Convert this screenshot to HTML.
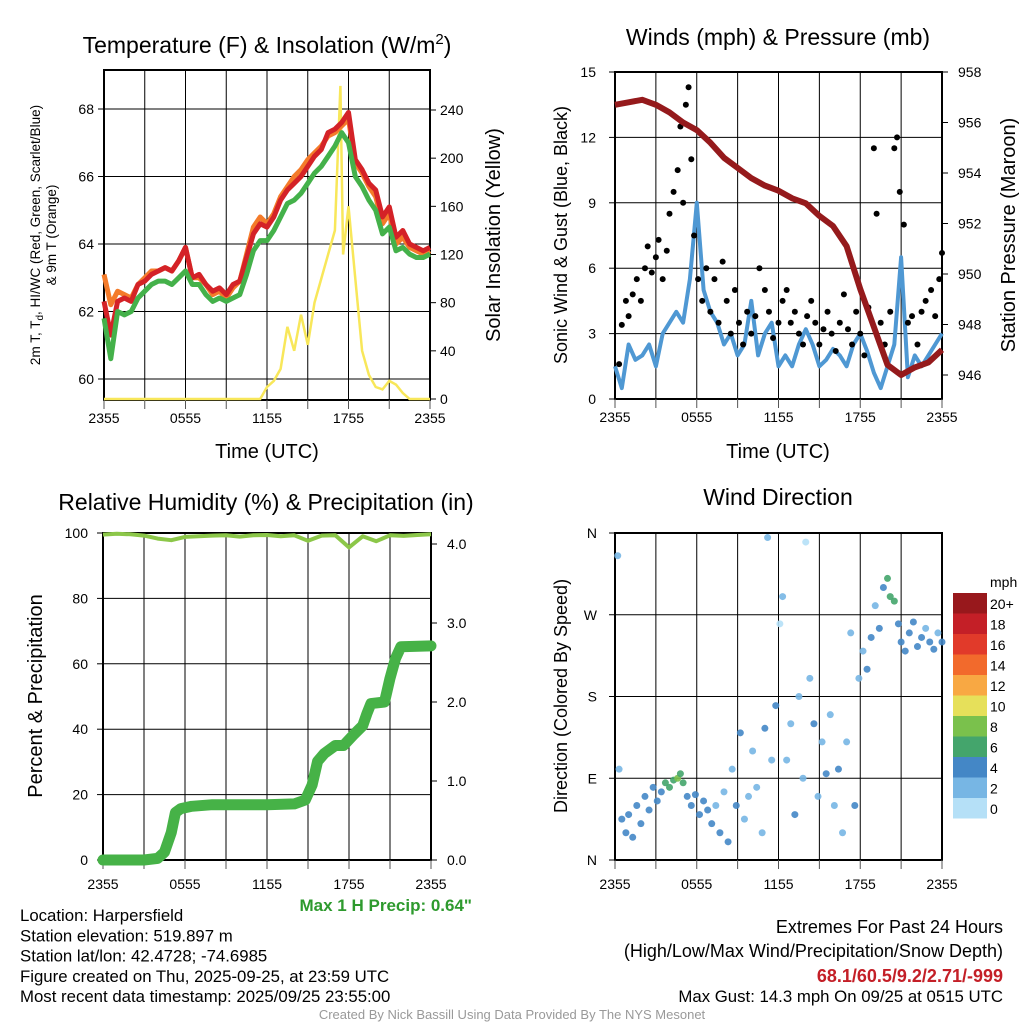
<!DOCTYPE html>
<html><head><meta charset="utf-8"><style>
body{margin:0;background:#fff;}
svg{display:block;font-family:"Liberation Sans",sans-serif;}
</style></head><body>
<svg id="c" width="1024" height="1024" viewBox="0 0 1024 1024" xmlns="http://www.w3.org/2000/svg"></svg>
<script>
// ---------- data ----------
const timeTicks = ["2355","0555","1155","1755","2355"];
const tempHours = [0,0.5,1,1.5,2,2.5,3,3.5,4,4.5,5,5.5,6,6.5,7,7.5,8,8.5,9,9.5,10,10.5,11,11.5,12,12.5,13,13.5,14,14.5,15,15.5,16,16.5,17,17.5,18,18.5,19,19.5,20,20.5,21,21.5,22,22.5,23,23.5,24];
const tempRed = [62.3,61.3,62.3,62.4,62.3,62.8,62.9,63.1,63.2,63.3,63.2,63.5,63.9,63.0,63.1,62.8,62.6,62.7,62.5,62.8,62.9,63.6,64.3,64.6,64.5,64.8,65.3,65.6,65.8,66.0,66.3,66.6,66.8,67.3,67.4,67.6,67.9,66.5,66.2,65.8,65.6,64.8,65.1,64.2,64.4,64.0,63.9,63.8,63.9];
const tempGreen = [61.8,60.6,62.0,61.9,62.0,62.4,62.6,62.8,62.9,62.9,62.8,63.0,63.2,62.8,62.8,62.5,62.3,62.4,62.3,62.4,62.5,63.1,63.8,64.1,64.1,64.4,64.8,65.2,65.3,65.5,65.8,66.1,66.3,66.6,66.9,67.3,67.0,66.0,65.7,65.3,65.0,64.3,64.5,63.8,63.9,63.7,63.6,63.6,63.7];
const tempOrange = [63.1,62.2,62.6,62.5,62.4,62.8,63.0,63.2,63.2,63.3,63.2,63.5,63.9,63.0,63.0,62.8,62.5,62.6,62.4,62.7,62.9,63.7,64.5,64.8,64.6,64.9,65.4,65.7,66.0,66.2,66.5,66.7,66.9,67.2,67.3,67.5,67.7,66.4,66.1,65.7,65.4,64.6,64.9,64.0,64.2,63.9,63.8,63.7,63.8];
const insoHours = [0,11.5,12,12.5,13,13.5,14,14.5,15,15.5,16,16.5,17,17.4,17.6,18,18.5,19,19.5,20,20.5,21,21.5,22,22.5,24];
const insoVals = [0,0,10,15,25,60,40,70,45,80,100,120,140,260,120,160,100,40,20,10,8,15,12,5,0,0];
const tempTicks = [60,62,64,66,68];
const insoTicks = [0,40,80,120,160,200,240];

const windHours = tempHours;
const windSpeed = [1.5,0.5,2.5,1.8,2.0,2.5,1.5,3,3.5,4,3.5,5.5,9,5,4,3.5,2.5,3,2,2.5,4.5,2,3,3.5,1.5,2,1.5,2.5,3.2,2.5,1.5,1.8,2.3,2.0,1.5,2.5,3,2.2,1.2,0.5,1.5,2.5,6.5,1.0,2.0,1.5,2.0,2.5,3.0];
const presHours = [0,1,2,3,4,5,6,7,8,9,10,11,12,13,14,15,16,17,18,19,20,21,22,23,24];
const presVals = [956.7,956.8,956.9,956.7,956.4,956.0,955.7,955.2,954.6,954.2,953.8,953.5,953.3,953.0,952.8,952.3,951.9,951.1,949.4,947.9,946.4,946.0,946.3,946.5,947.0];
const gustHours = [0.3,0.5,0.8,1.0,1.3,1.6,1.9,2.2,2.4,2.7,3.0,3.2,3.5,3.8,4.0,4.3,4.6,4.8,5.0,5.2,5.4,5.6,5.8,6.1,6.4,6.7,7.0,7.3,7.6,7.9,8.2,8.5,8.8,9.1,9.4,9.7,10.0,10.3,10.6,11.0,11.3,11.6,12.0,12.3,12.6,12.9,13.2,13.5,13.8,14.1,14.4,14.7,15.0,15.3,15.6,15.9,16.2,16.5,16.8,17.1,17.4,17.7,18.0,18.3,18.6,19.0,19.2,19.5,19.8,20.2,20.5,20.7,20.9,21.2,21.5,21.8,22.2,22.5,22.8,23.2,23.5,23.8,24];
const gustVals = [1.6,3.4,4.5,3.8,4.8,5.5,4.5,6,7,5.8,6.5,7.3,5.5,6.8,8.5,9.5,10.5,12.5,9,13.5,14.3,11,7.5,5.5,4.5,6,4,5.5,3.5,6.3,4.5,3,5,3.5,2.5,4,3,3.8,6,5,4,2.8,3.5,4.5,5,3.5,4,3,2.5,3.8,4.5,3.5,2.5,3.2,4,3,2.2,3.5,4.8,3.2,2.5,4,3,2.0,4.2,11.5,8.5,3.5,2.5,4,11.5,12,9.5,8,3.5,3.8,2.5,4,4.5,5,3.8,5.5,6.7];
const windTicks = [0,3,6,9,12,15];
const presTicks = [946,948,950,952,954,956,958];

const rhHours = presHours;
const rhVals = [99.5,99.8,99.6,99.2,98.3,97.8,98.8,99.0,99.2,99.3,98.9,99.3,99.4,99.0,99.3,97.6,99.2,99.3,95.6,99.0,97.5,99.3,99.1,99.4,99.6];
const precipHours = [0,3,4,4.5,5,5.3,5.7,6.5,8,12,14,14.8,15.3,15.7,16.2,17,17.6,18.3,19.0,19.3,19.6,20.6,21.0,21.4,21.8,24];
const precipVals = [0,0,0.02,0.1,0.35,0.6,0.65,0.68,0.7,0.7,0.71,0.76,0.95,1.25,1.35,1.45,1.45,1.58,1.7,1.85,1.98,2.0,2.3,2.55,2.7,2.71];
const rhTicks = [0,20,40,60,80,100];
const precipTicks = ["0.0","1.0","2.0","3.0","4.0"];

const dirHours = [0.2,0.3,0.5,0.8,1.0,1.3,1.6,1.9,2.2,2.5,2.8,3.1,3.4,3.7,4.0,4.3,4.6,4.8,5.0,5.3,5.6,5.9,6.2,6.5,6.8,7.1,7.4,7.7,8.0,8.3,8.6,8.9,9.2,9.5,9.8,10.1,10.4,10.8,11.0,11.2,11.5,11.8,12.1,12.3,12.6,12.9,13.2,13.5,13.8,14.0,14.3,14.6,14.9,15.2,15.5,15.8,16.1,16.4,16.7,17.0,17.3,17.6,17.9,18.2,18.5,18.8,19.1,19.4,19.7,20.0,20.2,20.5,20.8,21.0,21.3,21.6,21.9,22.2,22.5,22.8,23.1,23.4,23.7,24];
const dirDeg = [335,100,45,30,50,25,60,40,70,55,80,65,75,85,80,88,90,95,85,70,60,72,50,65,55,40,60,30,75,20,100,60,140,45,70,120,80,30,145,355,110,170,260,290,110,150,50,180,90,350,200,150,70,130,95,160,60,100,30,130,250,60,200,230,210,245,280,255,300,310,290,285,260,240,230,250,262,235,245,255,240,232,250,240];
const dirSpeed = [1,1,3,4,3,4,3,4,3,4,3,4,4,6,5,6,7,6,5,4,3,4,3,4,3,3,2,3,2,3,2,3,3,2,2,1,1,2,4,1,2,3,0,1,2,1,3,2,1,0,2,3,2,2,3,1,1,3,2,2,1,3,2,1,3,4,2,4,3,6,5,6,4,3,4,3,4,3,3,2,3,3,2,3];
const dirLabels = ["N","E","S","W","N"];
const speedBins = ["0","2","4","6","8","10","12","14","16","18","20+"];
const binColors = ["#b5e0f7","#77b6e4","#4487c6","#44a56c","#7ac14c","#e6e05a","#f8a843","#f26a2c","#e13a2a","#c41f27","#98181c"];

// ---------- helpers ----------
const S = "http://www.w3.org/2000/svg";
const svg = document.getElementById('c');
function el(tag, attrs, parent){ const e=document.createElementNS(S,tag); for(const k in attrs) e.setAttribute(k,attrs[k]); (parent||svg).appendChild(e); return e; }
function txt(x,y,s,size,anchor,parent,extra){ const t=el('text',Object.assign({x:x,y:y,'font-size':size,'text-anchor':anchor||'middle',fill:'#000'},extra||{}),parent); t.textContent=s; return t; }
function lin(d0,d1,r0,r1){ return v=>r0+(v-d0)*(r1-r0)/(d1-d0); }
function pathD(xs,ys,fx,fy){ return xs.map((h,i)=>(i?'L':'M')+fx(h).toFixed(1)+' '+fy(ys[i]).toFixed(1)).join(''); }

function frame(g,x0,x1,y0,y1,nv){
  for(let i=0;i<=nv;i++){ const x=x0+(x1-x0)*i/nv; el('line',{x1:x,x2:x,y1:y0,y2:y1,stroke:'#000','stroke-width':1},g); }
  el('rect',{x:x0,y:y0,width:x1-x0,height:y1-y0,fill:'none',stroke:'#000','stroke-width':2},g);
}
function hgrid(g,x0,x1,ys){ ys.forEach(y=>el('line',{x1:x0,x2:x1,y1:y,y2:y,stroke:'#000','stroke-width':1},g)); }
function timeAxis(g,x0,x1,y,off){ for(let i=0;i<=8;i++){ const x=x0+(x1-x0)*i/8; el('line',{x1:x,x2:x,y1:y,y2:y+9,stroke:'#555','stroke-width':1},g);} timeTicks.forEach((t,i)=>{ const x=x0+(x1-x0)*i/4; txt(x,y+off,t,14,'middle',g);}); }

// ---------- Panel 1: Temperature ----------
const p1 = el('g',{});  
const X1=lin(0,24,104,430), Y1=lin(60,68,379,109), YI=lin(0,240,399,110);
frame(p1,104,430,70,400,8);
hgrid(p1,104,430,tempTicks.map(Y1));
tempTicks.forEach(v=>{ el('line',{x1:98,x2:104,y1:Y1(v),y2:Y1(v),stroke:'#000'},p1); txt(94,Y1(v)+5,String(v),14,'end',p1); });
insoTicks.forEach(v=>{ el('line',{x1:430,x2:436,y1:YI(v),y2:YI(v),stroke:'#000'},p1); txt(440,YI(v)+5,String(v),14,'start',p1); });
timeAxis(p1,104,430,400,23);
const inso = el('path',{d:pathD(insoHours,insoVals,X1,YI),fill:'none',stroke:'#f8e75a','stroke-width':2.5},p1);


const lo = el('path',{d:pathD(tempHours,tempOrange,X1,Y1),fill:'none',stroke:'#f47b2a','stroke-width':5,'stroke-linejoin':'round'},p1);


const lr = el('path',{d:pathD(tempHours,tempRed,X1,Y1),fill:'none',stroke:'#d42227','stroke-width':5,'stroke-linejoin':'round'},p1);


const lg = el('path',{d:pathD(tempHours,tempGreen,X1,Y1),fill:'none',stroke:'#44b14a','stroke-width':5,'stroke-linejoin':'round'},p1);


const t1=txt(267,53,'',23,'middle',p1); t1.innerHTML='Temperature (F) &amp; Insolation (W/m<tspan dy="-9" font-size="15">2</tspan><tspan dy="9">)</tspan>';

txt(267,458,'Time (UTC)',20,'middle',p1);
const yl1=el('text',{transform:'translate(40,235) rotate(-90)','font-size':13.5,'text-anchor':'middle'},p1);
yl1.innerHTML='<tspan x="0" dy="0">2m T, T<tspan font-size="10" dy="3">d</tspan><tspan dy="-3">, HI/WC (Red, Green, Scarlet/Blue)</tspan></tspan><tspan x="0" dy="16">&amp; 9m T (Orange)</tspan>';

const yr1=txt(0,0,'Solar Insolation (Yellow)',20,'middle',p1,{transform:'translate(500,235) rotate(-90)'});


// ---------- Panel 2: Winds ----------
const p2 = el('g',{});  
const X2=lin(0,24,615,942), Y2=lin(0,15,399,72), YP=lin(946,958,375,72);
frame(p2,615,942,72,399,8);
hgrid(p2,615,942,windTicks.map(Y2));
windTicks.forEach(v=>{ el('line',{x1:609,x2:615,y1:Y2(v),y2:Y2(v),stroke:'#000'},p2); txt(596,Y2(v)+5,String(v),14,'end',p2); });
presTicks.forEach(v=>{ el('line',{x1:942,x2:948,y1:YP(v),y2:YP(v),stroke:'#000'},p2); txt(958,YP(v)+5,String(v),14,'start',p2); });
timeAxis(p2,615,942,399,23);
const ws = el('path',{d:pathD(windHours,windSpeed,X2,Y2),fill:'none',stroke:'#4f98d3','stroke-width':4,'stroke-linejoin':'round'},p2);


gustHours.forEach((h,i)=>{
  const c=el('circle',{cx:X2(h),cy:Y2(gustVals[i]),r:3,fill:'#000'},p2);
  
  
});
const pr = el('path',{d:pathD(presHours,presVals,X2,YP),fill:'none',stroke:'#951a1c','stroke-width':6,'stroke-linejoin':'round'},p2);


txt(778,45,'Winds (mph) & Pressure (mb)',23,'middle',p2);
txt(778,458,'Time (UTC)',20,'middle',p2);
txt(0,0,'Sonic Wind & Gust (Blue, Black)',18,'middle',p2,{transform:'translate(567,235) rotate(-90)'});
txt(0,0,'Station Pressure (Maroon)',20,'middle',p2,{transform:'translate(1015,235) rotate(-90)'});

// ---------- Panel 3: RH & Precip ----------
const p3 = el('g',{});  
const X3=lin(0,24,103,431), Y3=lin(0,100,860,533), YR=lin(0,4,860,544);
frame(p3,103,431,533,860,8);
hgrid(p3,103,431,rhTicks.map(Y3));
rhTicks.forEach(v=>{ el('line',{x1:97,x2:103,y1:Y3(v),y2:Y3(v),stroke:'#000'},p3); txt(88,Y3(v)+5,String(v),14,'end',p3); });
precipTicks.forEach(v=>{ el('line',{x1:431,x2:437,y1:YR(+v),y2:YR(+v),stroke:'#000'},p3); txt(447,YR(+v)+5,v,14,'start',p3); });
timeAxis(p3,103,431,860,29);
const rh = el('path',{d:pathD(rhHours,rhVals,X3,Y3),fill:'none',stroke:'#8cc749','stroke-width':4,'stroke-linejoin':'round'},p3);


const pc = el('path',{d:pathD(precipHours,precipVals,X3,YR),fill:'none',stroke:'#46b247','stroke-width':11,'stroke-linejoin':'round','stroke-linecap':'round'},p3);


txt(266,510,'Relative Humidity (%) & Precipitation (in)',23,'middle',p3);
txt(0,0,'Percent & Precipitation',20,'middle',p3,{transform:'translate(42,696) rotate(-90)'});
txt(472,911,'Max 1 H Precip: 0.64"',17,'end',p3,{fill:'#2e9a2e','font-weight':'bold'});

// ---------- Panel 4: Wind direction ----------
const p4 = el('g',{});  
const X4=lin(0,24,615,942), Y4=lin(0,360,860,533);
frame(p4,615,942,533,860,8);
hgrid(p4,615,942,[90,180,270].map(Y4));
dirLabels.forEach((l,i)=>{ const y=Y4(i*90); el('line',{x1:609,x2:615,y1:y,y2:y,stroke:'#000'},p4); txt(597,y+5,l,14,'end',p4); });
timeAxis(p4,615,942,860,29);
dirHours.forEach((h,i)=>{
  const b=Math.min(10,Math.round(dirSpeed[i]/2));
  const c=el('circle',{cx:X4(h),cy:Y4(dirDeg[i]),r:3.5,fill:binColors[b],opacity:0.9},p4);
  
  
});
txt(778,505,'Wind Direction',23,'middle',p4);
txt(0,0,'Direction (Colored By Speed)',18,'middle',p4,{transform:'translate(567,696) rotate(-90)'});
const cb = el('g',{},p4);  
txt(990,587,'mph',14,'start',cb);
speedBins.forEach((s,i)=>{
  const k=10-i; const y=593+i*20.5;
  el('rect',{x:953,y:y,width:34,height:20.5,fill:binColors[k]},cb);
  txt(990,y+16,speedBins[k],14,'start',cb);
});

// ---------- Text block ----------
const info = el('g',{});  
["Location: Harpersfield","Station elevation: 519.897 m","Station lat/lon: 42.4728; -74.6985","Figure created on Thu, 2025-09-25, at 23:59 UTC","Most recent data timestamp: 2025/09/25 23:55:00"].forEach((s,i)=>txt(20,921+i*20.3,s,16.8,'start',info));
const ex = el('g',{});  
txt(1003,933,'Extremes For Past 24 Hours',18,'end',ex);
txt(1003,957,'(High/Low/Max Wind/Precipitation/Snow Depth)',18,'end',ex);
txt(1003,982,'68.1/60.5/9.2/2.71/-999',18,'end',ex,{fill:'#c41f27','font-weight':'bold'});
txt(1003,1002,'Max Gust: 14.3 mph On 09/25 at 0515 UTC',16.8,'end',ex);
txt(512,1019,'Created By Nick Bassill Using Data Provided By The NYS Mesonet',13,'middle',null,{fill:'#999'});
</script>
</body></html>
